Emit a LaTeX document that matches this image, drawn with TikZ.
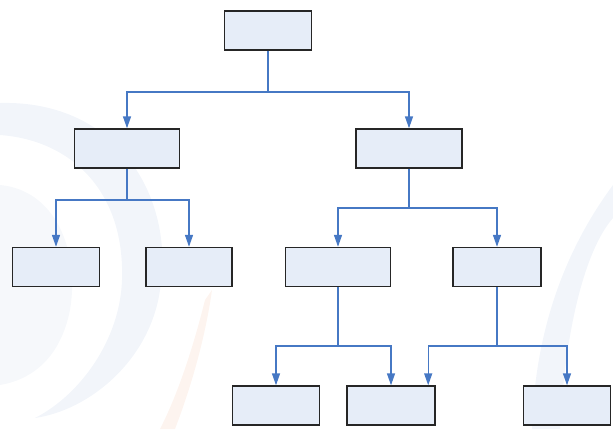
\documentclass[tikz,border=0pt]{standalone}
\usepackage{xcolor}
\usepackage{tikz}
\usetikzlibrary{arrows.meta, positioning}

\definecolor{linkblue}{RGB}{70,120,196}
\definecolor{boxfill}{RGB}{230,237,248}
\definecolor{wmblue}{RGB}{242,245,250}
\definecolor{wmorange}{RGB}{253,244,239}

\begin{document}
\begin{tikzpicture}[
		x=1pt, y=-1pt,
		box/.style={draw=black!85, line width=1.4pt, fill=boxfill, minimum height=39pt, inner sep=0pt},
		link/.style={draw=linkblue, line width=1.4pt},
		>={Triangle[length=12pt, width=8pt]}
		]
		\useasboundingbox (0,0) rectangle (613,429);
		% faint watermark in the background
		\fill[wmblue] (0,103) .. controls (120,100) and (175,200) .. (160,290)
		.. controls (150,360) and (90,410) .. (35,418)
		.. controls (80,395) and (120,340) .. (122,280)
		.. controls (125,190) and (70,140) .. (0,135) -- cycle;
		\fill[wmblue!70!white] (0,185) .. controls (55,190) and (80,250) .. (70,310)
		.. controls (60,360) and (30,380) .. (0,385) -- cycle;
		\fill[wmorange] (212,290) .. controls (205,340) and (190,390) .. (175,429)
		-- (160,429) .. controls (180,390) and (195,340) .. (205,300) -- cycle;
		\fill[wmblue] (613,185) .. controls (565,250) and (535,330) .. (532,429)
		-- (560,429) .. controls (565,330) and (585,250) .. (613,218) -- cycle;
		
		% Boxes
		\node[box, minimum width=87pt] (root) at (268,30.5) {};
		\node[box, minimum width=105pt] (left) at (127,148.5) {};
		\node[box, minimum width=106pt] (right) at (409,148.5) {};
		\node[box, minimum width=87pt] (ll) at (56,267) {};
		\node[box, minimum width=86pt] (lr) at (189,267) {};
		\node[box, minimum width=105pt] (rl) at (338,267) {};
		\node[box, minimum width=88pt] (rr) at (497,267) {};
		\node[box, minimum width=87pt] (b1) at (276,405.5) {};
		\node[box, minimum width=88pt] (b2) at (391,405.5) {};
		\node[box, minimum width=87pt] (b3) at (567,405.5) {};
		
		% Junctions
		\coordinate (j0) at (268,92);
		\coordinate (j1) at (127,200);
		\coordinate (j2) at (409,208);
		\coordinate (j3) at (338,346);
		\coordinate (j4) at (497,346);
		
		% Connectors
		\draw[link] (root.south) -- (j0);
		\draw[link, ->] (j0) -| (left.north);
		\draw[link, ->] (j0) -| (right.north);
		\draw[link] (left.south) -- (j1);
		\draw[link, ->] (j1) -| (ll.north);
		\draw[link, ->] (j1) -| (lr.north);
		\draw[link] (right.south) -- (j2);
		\draw[link, ->] (j2) -| (rl.north);
		\draw[link, ->] (j2) -| (rr.north);
		\draw[link] (rl.south) -- (j3);
		\draw[link, ->] (j3) -| (b1.north);
		\draw[link, ->] (j3) -| (b2.north);
		\draw[link] (rr.south) -- (j4);
		\draw[link, ->] (j4) -| ([xshift=-7.5pt]b2.north east);
		\draw[link, ->] (j4) -| (b3.north);
	\end{tikzpicture}
\end{document}
